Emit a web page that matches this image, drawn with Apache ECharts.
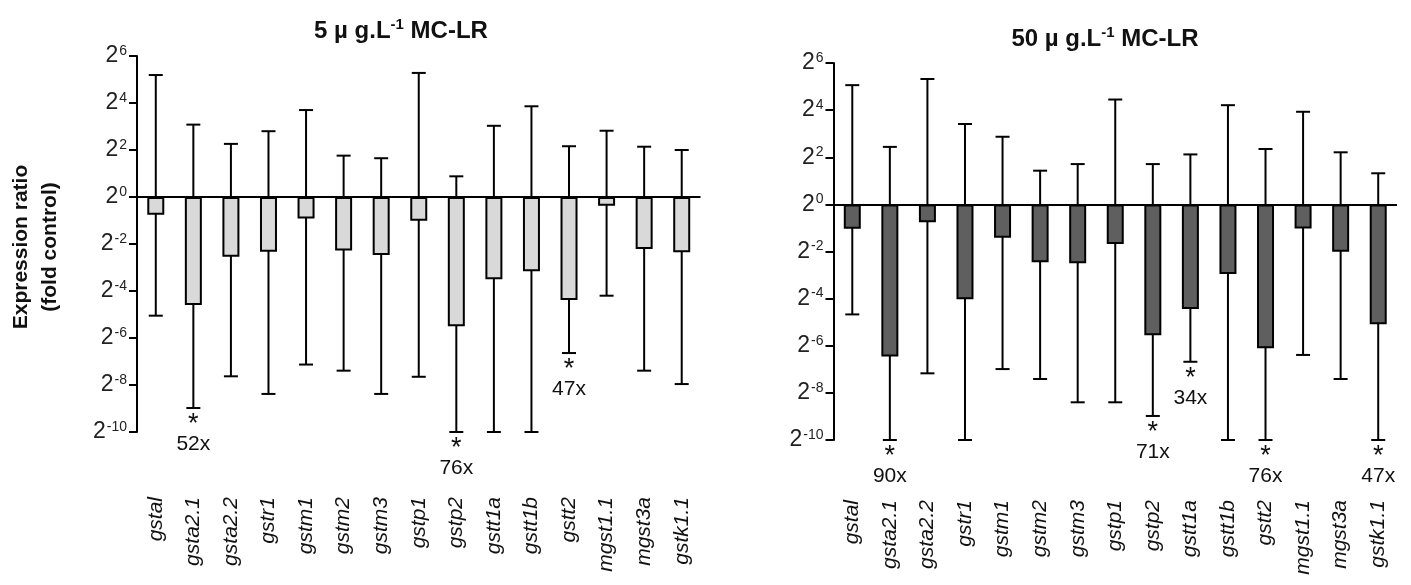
<!DOCTYPE html>
<html>
<head>
<meta charset="utf-8">
<script src="https://cdn.jsdelivr.net/npm/echarts@6/dist/echarts.min.js"></script>
<style>html,body{margin:0;padding:0;background:#fff}#c{width:1411px;height:585px}</style>
</head>
<body>
<div id="c"></div>
<script>
// Genes (x categories)
const categories = ['gstal','gsta2.1','gsta2.2','gstr1','gstm1','gstm2','gstm3','gstp1','gstp2','gstt1a','gstt1b','gstt2','mgst1.1','mgst3a','gstk1.1'];
// y tick exponents (log2 scale)
const tickExponents = [-10, -8, -6, -4, -2, 0, 2, 4, 6];

// 5 µg/L MC-LR : log2 expression ratio, error-bar upper and lower ends
const mean5  = [-0.75, -4.6, -2.54, -2.33, -0.91, -2.28, -2.47, -1.01, -5.5, -3.5, -3.16, -4.38, -0.37, -2.21, -2.35];
const upper5 = [5.19, 3.08, 2.26, 2.8, 3.7, 1.76, 1.65, 5.28, 0.88, 3.03, 3.86, 2.16, 2.82, 2.14, 2.0];
const lower5 = [-5.05, -8.98, -7.63, -8.38, -7.13, -7.39, -8.38, -7.65, -10, -10, -10, -6.64, -4.2, -7.39, -7.96];
const fold5  = ['', '52x', '', '', '', '', '', '', '76x', '', '', '47x', '', '', ''];

// 50 µg/L MC-LR
const mean50  = [-1.03, -6.46, -0.76, -4.03, -1.42, -2.46, -2.5, -1.68, -5.55, -4.44, -2.96, -6.11, -1.02, -2.01, -5.09];
const upper50 = [5.06, 2.44, 5.32, 3.41, 2.87, 1.43, 1.71, 4.45, 1.71, 2.12, 4.21, 2.35, 3.93, 2.21, 1.32];
const lower50 = [-4.67, -10, -7.17, -10, -6.99, -7.41, -8.4, -8.4, -8.98, -6.68, -10, -10, -6.39, -7.41, -10];
const fold50  = ['', '90x', '', '', '', '', '', '', '71x', '34x', '', '76x', '', '', '47x'];

const FONT = "'Liberation Sans', Arial, sans-serif";
const chart = echarts.init(document.getElementById('c'));

function errData(lo, hi) { return categories.map((c, i) => [i, lo[i], hi[i]]); }
function annData(lo, f) {
  const out = [];
  f.forEach((t, i) => { if (t) out.push([i, lo[i], t]); });
  return out;
}

function errorItem(params, api) {
  const i = api.value(0);
  const lo = api.coord([i, api.value(1)]);
  const hi = api.coord([i, api.value(2)]);
  const hw = 7;
  const st = { stroke: '#000', lineWidth: 2 };
  return {
    type: 'group',
    children: [
      { type: 'line', shape: { x1: lo[0], y1: lo[1], x2: hi[0], y2: hi[1] }, style: st },
      { type: 'line', shape: { x1: hi[0] - hw, y1: hi[1], x2: hi[0] + hw, y2: hi[1] }, style: st },
      { type: 'line', shape: { x1: lo[0] - hw, y1: lo[1], x2: lo[0] + hw, y2: lo[1] }, style: st }
    ]
  };
}
function annItem(params, api) {
  const i = api.value(0);
  const p = api.coord([i, api.value(1)]);
  return {
    type: 'group',
    children: [
      { type: 'text', x: p[0], y: p[1] + 3, style: { text: '*', fontSize: 27, fontFamily: FONT, fill: '#111', align: 'center', verticalAlign: 'top' } },
      { type: 'text', x: p[0], y: p[1] + 36, style: { text: api.value(2), fontSize: 21, fontFamily: FONT, fill: '#111', align: 'center', verticalAlign: 'middle' } }
    ]
  };
}

function yAxisDef(gi) {
  return {
    type: 'value', gridIndex: gi, min: -10, max: 6, interval: 2,
    axisLine: { show: true, lineStyle: { color: '#000', width: 2 } },
    axisTick: { show: true, length: 8, lineStyle: { color: '#000', width: 2 } },
    splitLine: { show: false },
    axisLabel: {
      margin: 10,
      formatter: v => tickExponents.includes(v) ? '{b|2}{s|' + v + '}' : '',
      rich: {
        b: { fontSize: 23, fontFamily: FONT, color: '#222', lineHeight: 24 },
        s: { fontSize: 14, fontFamily: FONT, color: '#222', verticalAlign: 'top', lineHeight: 24, padding: [0, 0, 0, 1] }
      }
    }
  };
}
function xAxisDef(gi, margin) {
  return {
    type: 'category', gridIndex: gi, data: categories,
    axisLine: { show: false }, axisTick: { show: false },
    axisLabel: { rotate: 90, interval: 0, margin: margin, fontSize: 21, fontStyle: 'italic', fontFamily: FONT, color: '#111' }
  };
}
function barSeries(idx, vals, color) {
  return {
    type: 'bar', xAxisIndex: idx, yAxisIndex: idx, data: vals, barWidth: 17, z: 3,
    itemStyle: { color: color, borderColor: '#000', borderWidth: 2 },
    markLine: {
      silent: true, symbol: 'none', label: { show: false },
      lineStyle: { color: '#000', width: 2, type: 'solid' },
      data: [{ yAxis: 0 }]
    }
  };
}

const titleRich = {
  t: { fontSize: 24, fontWeight: 'bold', fontFamily: FONT, color: '#111', lineHeight: 28 },
  s: { fontSize: 15, fontWeight: 'bold', fontFamily: FONT, color: '#111', verticalAlign: 'top', lineHeight: 28 }
};

chart.setOption({
  animation: false,
  backgroundColor: '#fff',
  title: [
    { text: '{t|5 µ g.L}{s|-1}{t| MC-LR}', left: 396, top: 12, textAlign: 'center', textStyle: { rich: titleRich } },
    { text: '{t|50 µ g.L}{s|-1}{t| MC-LR}', left: 1100, top: 20, textAlign: 'center', textStyle: { rich: titleRich } }
  ],
  grid: [
    { left: 137, top: 56, width: 563.5, height: 376 },
    { left: 833.5, top: 63, width: 563.5, height: 377 }
  ],
  xAxis: [xAxisDef(0, 65), xAxisDef(1, 60)],
  yAxis: [yAxisDef(0), yAxisDef(1)],
  graphic: [{
    type: 'text', x: 36, y: 247, rotation: Math.PI / 2,
    style: { text: 'Expression ratio\n(fold control)', fontSize: 21, fontWeight: 'bold', fontFamily: FONT, fill: '#111', align: 'center', verticalAlign: 'middle', lineHeight: 29 }
  }],
  series: [
    { type: 'custom', xAxisIndex: 0, yAxisIndex: 0, data: errData(lower5, upper5), renderItem: errorItem, z: 1 },
    barSeries(0, mean5, '#d9d9d9'),
    { type: 'custom', xAxisIndex: 0, yAxisIndex: 0, data: annData(lower5, fold5), renderItem: annItem, z: 4 },
    { type: 'custom', xAxisIndex: 1, yAxisIndex: 1, data: errData(lower50, upper50), renderItem: errorItem, z: 1 },
    barSeries(1, mean50, '#5f5f5f'),
    { type: 'custom', xAxisIndex: 1, yAxisIndex: 1, data: annData(lower50, fold50), renderItem: annItem, z: 4 }
  ]
});
</script>
</body>
</html>
